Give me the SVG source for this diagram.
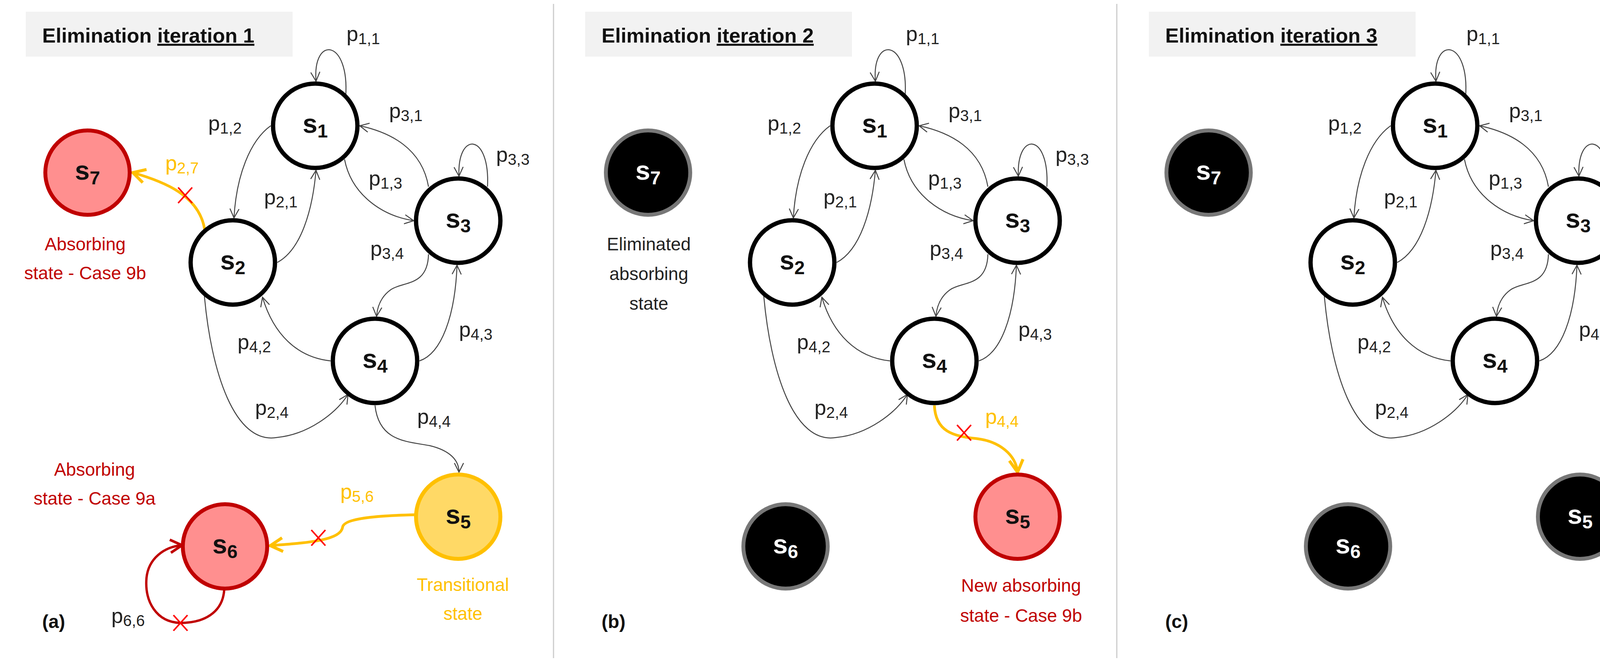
<svg xmlns="http://www.w3.org/2000/svg" width="4278" height="1695" viewBox="0 0 4278 1695">
<defs>
<style>
text{font-family:"Liberation Sans",Arial,sans-serif}
.e{fill:none;stroke:#444;stroke-width:2.5;marker-end:url(#ag)}
.n{fill:#fff;stroke:#000;stroke-width:11}
.k{fill:#000;stroke:#777;stroke-width:10}
.r{fill:#ff8f8f;stroke:#c00000;stroke-width:10}
.y{fill:#ffd966;stroke:#ffc000;stroke-width:10}
.nl{font-size:68px;font-weight:bold;text-anchor:middle;fill:#111}
.kl{font-size:68px;font-weight:bold;text-anchor:middle;fill:#fff}
.p{font-size:54px;fill:#222}
.py{font-size:54px;fill:#ffc000}
.s{font-size:40px}
.ns{font-size:48px}
.ye{fill:none;stroke:#ffc000;stroke-width:7;marker-end:url(#ay)}
.re{fill:none;stroke:#c00000;stroke-width:6;marker-end:url(#ar)}
.x{stroke:#ff0000;stroke-width:4}
.ttl{font-size:52px;font-weight:bold;fill:#111}
.rt{font-size:46px;fill:#c00000;text-anchor:middle}
.yt{font-size:46px;fill:#ffc000;text-anchor:middle}
.bt{font-size:46px;fill:#222;text-anchor:middle}
.lab{font-size:48px;font-weight:bold;fill:#111}
</style>
<marker id="ag" viewBox="0 0 12 12" refX="11" refY="6" markerWidth="28" markerHeight="28" markerUnits="userSpaceOnUse" orient="auto"><path d="M1,1 L11,6 L1,11" fill="none" stroke="#444" stroke-width="1.1"/></marker>
<marker id="ay" viewBox="0 0 12 12" refX="10" refY="6" markerWidth="42" markerHeight="42" markerUnits="userSpaceOnUse" orient="auto"><path d="M1,1 L10,6 L1,11" fill="none" stroke="#ffc000" stroke-width="2.2"/></marker>
<marker id="ar" viewBox="0 0 12 12" refX="10" refY="6" markerWidth="40" markerHeight="40" markerUnits="userSpaceOnUse" orient="auto"><path d="M1,1 L10,6 L1,11" fill="none" stroke="#c00000" stroke-width="2"/></marker>
</defs>
<rect width="4278" height="1695" fill="#fff"/>
<line x1="1417" y1="10" x2="1417" y2="1685" stroke="#ccc" stroke-width="3"/>
<line x1="2859" y1="10" x2="2859" y2="1685" stroke="#ccc" stroke-width="3"/>

<g id="panel-a">
<rect x="66" y="30" width="683" height="115" fill="#f2f2f2"/>
<text class="ttl" x="108" y="109">Elimination <tspan text-decoration="underline">iteration 1</tspan></text>
<g id="a-connectors">
<path class="e" d="M885,247 C895,100 800,90 809,208"/>
<path class="e" d="M693,322 C640,360 605,450 599,558"/>
<path class="e" d="M710,672 C770,640 800,540 809,436"/>
<path class="e" d="M882,408 C900,500 980,553 1059,565"/>
<path class="e" d="M1097,478 C1080,380 1000,339 921,322"/>
<path class="e" d="M1248,478 C1255,340 1170,335 1175,451"/>
<path class="e" d="M1097,651 C1095,735 1030,720 1000,742 C975,760 966,785 964,810"/>
<path class="e" d="M1074,924 C1130,905 1165,810 1170,679"/>
<path class="e" d="M846,924 C760,915 700,855 672,761"/>
<path class="e" d="M523,755 C540,950 600,1140 710,1120 C790,1112 860,1058 891,1010"/>
<path class="e" d="M960,1038 C970,1130 1040,1130 1100,1141 C1150,1153 1175,1177 1175,1209"/>
<path class="ye" d="M524,588 C510,500 420,465 340,442"/>
<path class="ye" d="M1062,1318 C980,1320 880,1325 877,1350 C872,1385 780,1390 692,1397"/>
<path class="re" d="M574,1510 C570,1570 520,1595 462,1595 C400,1593 370,1540 375,1480 C380,1430 420,1400 466,1396"/>
<path class="x" d="M456,480 L492,520 M492,480 L456,520"/>
<path class="x" d="M797,1357 L833,1397 M833,1357 L797,1397"/>
<path class="x" d="M444,1575 L480,1615 M480,1575 L444,1615"/>
</g>
<g id="a-s1"><circle class="n" cx="807" cy="322" r="108"/><text class="nl" x="807" y="340">s<tspan class="ns" dy="12">1</tspan></text></g>
<g id="a-s2"><circle class="n" cx="596" cy="672" r="108"/><text class="nl" x="596" y="690">s<tspan class="ns" dy="12">2</tspan></text></g>
<g id="a-s3"><circle class="n" cx="1173" cy="565" r="108"/><text class="nl" x="1173" y="583">s<tspan class="ns" dy="12">3</tspan></text></g>
<g id="a-s4"><circle class="n" cx="960" cy="924" r="108"/><text class="nl" x="960" y="942">s<tspan class="ns" dy="12">4</tspan></text></g>
<g id="a-s5"><circle class="y" cx="1173" cy="1323" r="108"/><text class="nl" x="1173" y="1341">s<tspan class="ns" dy="12">5</tspan></text></g>
<g id="a-s6"><circle class="r" cx="576" cy="1399" r="108"/><text class="nl" x="576" y="1417">s<tspan class="ns" dy="12">6</tspan></text></g>
<g id="a-s7"><circle class="r" cx="224" cy="442" r="108"/><text class="nl" x="224" y="460">s<tspan class="ns" dy="12">7</tspan></text></g>
<text class="p" x="887" y="105">p<tspan class="s" dy="8">1,1</tspan></text>
<text class="p" x="533" y="334">p<tspan class="s" dy="8">1,2</tspan></text>
<text class="p" x="996" y="302">p<tspan class="s" dy="8">3,1</tspan></text>
<text class="py" x="423" y="436">p<tspan class="s" dy="8">2,7</tspan></text>
<text class="p" x="1270" y="414">p<tspan class="s" dy="8">3,3</tspan></text>
<text class="p" x="676" y="523">p<tspan class="s" dy="8">2,1</tspan></text>
<text class="p" x="944" y="475">p<tspan class="s" dy="8">1,3</tspan></text>
<text class="p" x="948" y="655">p<tspan class="s" dy="8">3,4</tspan></text>
<text class="p" x="608" y="894">p<tspan class="s" dy="8">4,2</tspan></text>
<text class="p" x="1175" y="862">p<tspan class="s" dy="8">4,3</tspan></text>
<text class="p" x="653" y="1062">p<tspan class="s" dy="8">2,4</tspan></text>
<text class="p" x="1068" y="1085">p<tspan class="s" dy="8">4,4</tspan></text>
<text class="py" x="871" y="1277">p<tspan class="s" dy="8">5,6</tspan></text>
<text class="p" x="285" y="1595">p<tspan class="s" dy="8">6,6</tspan></text>
<text class="rt" x="218" y="641">Absorbing</text>
<text class="rt" x="218" y="715">state - Case 9b</text>
<text class="rt" x="242" y="1218">Absorbing</text>
<text class="rt" x="242" y="1292">state - Case 9a</text>
<text class="yt" x="1185" y="1513">Transitional</text>
<text class="yt" x="1185" y="1587">state</text>
<text class="lab" x="108" y="1608">(a)</text>
</g>

<g id="panel-b" transform="translate(1432,0)">
<rect x="66" y="30" width="683" height="115" fill="#f2f2f2"/>
<text class="ttl" x="108" y="109">Elimination <tspan text-decoration="underline">iteration 2</tspan></text>
<g id="b-connectors">
<path class="e" d="M885,247 C895,100 800,90 809,208"/>
<path class="e" d="M693,322 C640,360 605,450 599,558"/>
<path class="e" d="M710,672 C770,640 800,540 809,436"/>
<path class="e" d="M882,408 C900,500 980,553 1059,565"/>
<path class="e" d="M1097,478 C1080,380 1000,339 921,322"/>
<path class="e" d="M1248,478 C1255,340 1170,335 1175,451"/>
<path class="e" d="M1097,651 C1095,735 1030,720 1000,742 C975,760 966,785 964,810"/>
<path class="e" d="M1074,924 C1130,905 1165,810 1170,679"/>
<path class="e" d="M846,924 C760,915 700,855 672,761"/>
<path class="e" d="M523,755 C540,950 600,1140 710,1120 C790,1112 860,1058 891,1010"/>
<path class="ye" d="M960,1038 C963,1105 1008,1117 1068,1123 C1128,1130 1168,1165 1173,1209"/>
<path class="x" d="M1018,1088 L1054,1128 M1054,1088 L1018,1128"/>
</g>
<g id="b-s1"><circle class="n" cx="807" cy="322" r="108"/><text class="nl" x="807" y="340">s<tspan class="ns" dy="12">1</tspan></text></g>
<g id="b-s2"><circle class="n" cx="596" cy="672" r="108"/><text class="nl" x="596" y="690">s<tspan class="ns" dy="12">2</tspan></text></g>
<g id="b-s3"><circle class="n" cx="1173" cy="565" r="108"/><text class="nl" x="1173" y="583">s<tspan class="ns" dy="12">3</tspan></text></g>
<g id="b-s4"><circle class="n" cx="960" cy="924" r="108"/><text class="nl" x="960" y="942">s<tspan class="ns" dy="12">4</tspan></text></g>
<g id="b-s5"><circle class="r" cx="1173" cy="1323" r="108"/><text class="nl" x="1173" y="1341">s<tspan class="ns" dy="12">5</tspan></text></g>
<g id="b-s6"><circle class="k" cx="579" cy="1399" r="108"/><text class="kl" x="579" y="1417">s<tspan class="ns" dy="12">6</tspan></text></g>
<g id="b-s7"><circle class="k" cx="227" cy="442" r="108"/><text class="kl" x="227" y="460">s<tspan class="ns" dy="12">7</tspan></text></g>
<text class="p" x="887" y="105">p<tspan class="s" dy="8">1,1</tspan></text>
<text class="p" x="533" y="334">p<tspan class="s" dy="8">1,2</tspan></text>
<text class="p" x="996" y="302">p<tspan class="s" dy="8">3,1</tspan></text>
<text class="p" x="1270" y="414">p<tspan class="s" dy="8">3,3</tspan></text>
<text class="p" x="676" y="523">p<tspan class="s" dy="8">2,1</tspan></text>
<text class="p" x="944" y="475">p<tspan class="s" dy="8">1,3</tspan></text>
<text class="p" x="948" y="655">p<tspan class="s" dy="8">3,4</tspan></text>
<text class="p" x="608" y="894">p<tspan class="s" dy="8">4,2</tspan></text>
<text class="p" x="1175" y="862">p<tspan class="s" dy="8">4,3</tspan></text>
<text class="p" x="653" y="1062">p<tspan class="s" dy="8">2,4</tspan></text>
<text class="py" x="1090" y="1085">p<tspan class="s" dy="8">4,4</tspan></text>
<text class="bt" x="229" y="641">Eliminated</text>
<text class="bt" x="229" y="717">absorbing</text>
<text class="bt" x="229" y="793">state</text>
<text class="rt" x="1182" y="1515">New absorbing</text>
<text class="rt" x="1182" y="1592">state - Case 9b</text>
<text class="lab" x="108" y="1608">(b)</text>
</g>

<g id="panel-c" transform="translate(2867,0)">
<rect x="74" y="30" width="683" height="115" fill="#f2f2f2"/>
<text class="ttl" x="116" y="109">Elimination <tspan text-decoration="underline">iteration 3</tspan></text>
<g id="c-connectors">
<path class="e" d="M885,247 C895,100 800,90 809,208"/>
<path class="e" d="M693,322 C640,360 605,450 599,558"/>
<path class="e" d="M710,672 C770,640 800,540 809,436"/>
<path class="e" d="M882,408 C900,500 980,553 1059,565"/>
<path class="e" d="M1097,478 C1080,380 1000,339 921,322"/>
<path class="e" d="M1248,478 C1255,340 1170,335 1175,451"/>
<path class="e" d="M1097,651 C1095,735 1030,720 1000,742 C975,760 966,785 964,810"/>
<path class="e" d="M1074,924 C1130,905 1165,810 1170,679"/>
<path class="e" d="M846,924 C760,915 700,855 672,761"/>
<path class="e" d="M523,755 C540,950 600,1140 710,1120 C790,1112 860,1058 891,1010"/>
</g>
<g id="c-s1"><circle class="n" cx="807" cy="322" r="108"/><text class="nl" x="807" y="340">s<tspan class="ns" dy="12">1</tspan></text></g>
<g id="c-s2"><circle class="n" cx="596" cy="672" r="108"/><text class="nl" x="596" y="690">s<tspan class="ns" dy="12">2</tspan></text></g>
<g id="c-s3"><circle class="n" cx="1173" cy="565" r="108"/><text class="nl" x="1173" y="583">s<tspan class="ns" dy="12">3</tspan></text></g>
<g id="c-s4"><circle class="n" cx="960" cy="924" r="108"/><text class="nl" x="960" y="942">s<tspan class="ns" dy="12">4</tspan></text></g>
<g id="c-s5"><circle class="k" cx="1178" cy="1323" r="108"/><text class="kl" x="1178" y="1341">s<tspan class="ns" dy="12">5</tspan></text></g>
<g id="c-s6"><circle class="k" cx="584" cy="1399" r="108"/><text class="kl" x="584" y="1417">s<tspan class="ns" dy="12">6</tspan></text></g>
<g id="c-s7"><circle class="k" cx="227" cy="442" r="108"/><text class="kl" x="227" y="460">s<tspan class="ns" dy="12">7</tspan></text></g>
<text class="p" x="887" y="105">p<tspan class="s" dy="8">1,1</tspan></text>
<text class="p" x="533" y="334">p<tspan class="s" dy="8">1,2</tspan></text>
<text class="p" x="996" y="302">p<tspan class="s" dy="8">3,1</tspan></text>
<text class="p" x="1270" y="414">p<tspan class="s" dy="8">3,3</tspan></text>
<text class="p" x="676" y="523">p<tspan class="s" dy="8">2,1</tspan></text>
<text class="p" x="944" y="475">p<tspan class="s" dy="8">1,3</tspan></text>
<text class="p" x="948" y="655">p<tspan class="s" dy="8">3,4</tspan></text>
<text class="p" x="608" y="894">p<tspan class="s" dy="8">4,2</tspan></text>
<text class="p" x="1175" y="862">p<tspan class="s" dy="8">4,3</tspan></text>
<text class="p" x="653" y="1062">p<tspan class="s" dy="8">2,4</tspan></text>
<text class="lab" x="116" y="1608">(c)</text>
</g>
</svg>
